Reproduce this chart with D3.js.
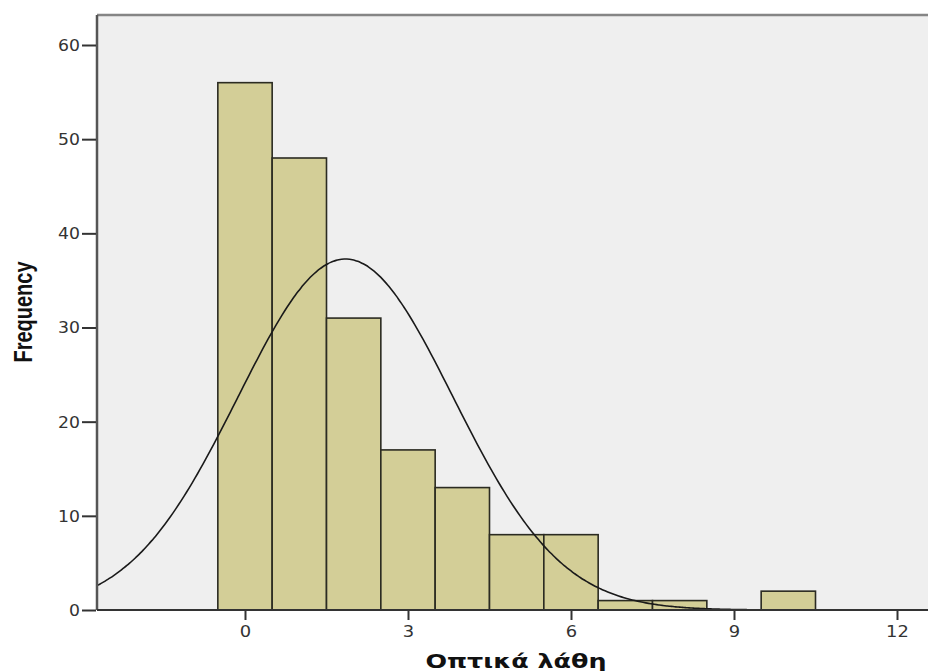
<!DOCTYPE html>
<html>
<head>
<meta charset="utf-8">
<script src="https://cdn.jsdelivr.net/npm/d3@7"></script>
<style>
  body { margin: 0; background: #fff; }
  svg { display: block; }
</style>
</head>
<body>
<div id="chart"></div>
<script>
// histogram bins (bin centre) and counts
let binCenters = [0, 1, 2, 3, 4, 5, 6, 7, 8, 9, 10];
let counts = [56, 48, 31, 17, 13, 8, 8, 1, 1, 0, 2];
let xTicks = [0, 3, 6, 9, 12];
let yTicks = [0, 10, 20, 30, 40, 50, 60];
// normal curve fitted to the data
let fitMean = 1.85;
let fitSd = 1.98;
let binWidth = 1;

let width = 928,
    height = 671;

let margin = {left: 97, top: 15, right: -40};

let svg = d3.select("#chart")
    .append("svg")
    .attr("width", width)
    .attr("height", height);

let x = d3.scaleLinear()
    .domain([0, 12])
    .range([245, 897]);

let y = d3.scaleLinear()
    .domain([0, 60])
    .range([610, 45]);

let plotLeft = margin.left,
    plotTop = margin.top,
    plotRight = width - margin.right,
    plotBottom = y(0);

svg.append("defs").append("clipPath")
    .attr("id", "plot-clip")
    .append("rect")
    .attr("x", plotLeft)
    .attr("y", plotTop)
    .attr("width", plotRight - plotLeft)
    .attr("height", plotBottom - plotTop);

// grey plot background
svg.append("rect")
    .attr("x", plotLeft)
    .attr("y", plotTop)
    .attr("width", plotRight - plotLeft)
    .attr("height", plotBottom - plotTop)
    .style("fill", "#efefef");

let plot = svg.append("g").attr("clip-path", "url(#plot-clip)");

plot.selectAll("rect.bar")
    .data(binCenters.map(function(c, i) { return {c: c, n: counts[i]}; }).filter(function(d) { return d.n > 0; }))
    .enter()
    .append("rect")
    .attr("class", "bar")
    .attr("x", function(d) { return x(d.c - binWidth / 2); })
    .attr("y", function(d) { return y(d.n); })
    .attr("width", function(d) { return x(d.c + binWidth / 2) - x(d.c - binWidth / 2); })
    .attr("height", function(d) { return y(0) - y(d.n); })
    .style("fill", "#d3ce97")
    .style("stroke", "#2b2b22")
    .style("stroke-width", 1.6);

// normal curve, scaled to counts
let total = d3.sum(counts);
let curvePts = d3.range(x.invert(plotLeft), x.invert(plotRight) + 0.05, 0.05).map(function(v) {
    let z = (v - fitMean) / fitSd;
    return [v, total * binWidth / (fitSd * Math.sqrt(2 * Math.PI)) * Math.exp(-0.5 * z * z)];
});

plot.append("path")
    .datum(curvePts)
    .attr("d", d3.line()
        .x(function(d) { return x(d[0]); })
        .y(function(d) { return y(d[1]); })
        .curve(d3.curveBasis))
    .style("fill", "none")
    .style("stroke", "#1a1a1a")
    .style("stroke-width", 1.6);

// frame: top and left in grey, bottom baseline dark
svg.append("line")
    .attr("x1", plotLeft).attr("x2", plotRight)
    .attr("y1", plotTop).attr("y2", plotTop)
    .style("stroke", "#858585").style("stroke-width", 2.5);

svg.append("line")
    .attr("x1", plotLeft).attr("x2", plotLeft)
    .attr("y1", plotTop).attr("y2", plotBottom)
    .style("stroke", "#555").style("stroke-width", 2.5);

svg.append("line")
    .attr("x1", plotLeft).attr("x2", plotRight)
    .attr("y1", plotBottom).attr("y2", plotBottom)
    .style("stroke", "#333").style("stroke-width", 2);

let tickFont = "'DejaVu Sans', Verdana, sans-serif";

// y axis
let yAxis = svg.append("g")
    .attr("transform", "translate(" + (plotLeft - 1) + ",0)")
    .call(d3.axisLeft(y).tickValues(yTicks).tickSize(14).tickPadding(1).tickFormat(d3.format("d")));
yAxis.select(".domain").remove();
yAxis.selectAll(".tick line").style("stroke", "#333").style("stroke-width", 2);
yAxis.selectAll(".tick text")
    .attr("x", null)
    .attr("dy", "0.36em")
    .attr("transform", "translate(-16,0) scale(1.15,1)")
    .style("font-family", tickFont)
    .style("font-size", "15px")
    .style("fill", "#333");

// x axis
let xAxis = svg.append("g")
    .attr("transform", "translate(0," + (plotBottom + 1) + ")")
    .call(d3.axisBottom(x).tickValues(xTicks).tickSize(9).tickPadding(5).tickFormat(d3.format("d")));
xAxis.select(".domain").remove();
xAxis.selectAll(".tick line").style("stroke", "#333").style("stroke-width", 2);
xAxis.selectAll(".tick text")
    .attr("y", null)
    .attr("dy", null)
    .attr("transform", "translate(0,26) scale(1.12,1)")
    .style("font-family", tickFont)
    .style("font-size", "16px")
    .style("fill", "#333");

// axis titles
svg.append("text")
    .text("Οπτικά λάθη")
    .attr("transform", "translate(516,668) scale(1.27,1)")
    .attr("text-anchor", "middle")
    .style("font-family", "'DejaVu Sans', sans-serif")
    .style("font-weight", "bold")
    .style("font-size", "20px")
    .style("fill", "#111");

svg.append("text")
    .text("Frequency")
    .attr("transform", "translate(32,312) rotate(-90) scale(0.77,1)")
    .attr("text-anchor", "middle")
    .style("font-family", "'Liberation Sans', Arial, sans-serif")
    .style("font-weight", "bold")
    .style("font-size", "26px")
    .style("fill", "#111");
</script>
</body>
</html>
